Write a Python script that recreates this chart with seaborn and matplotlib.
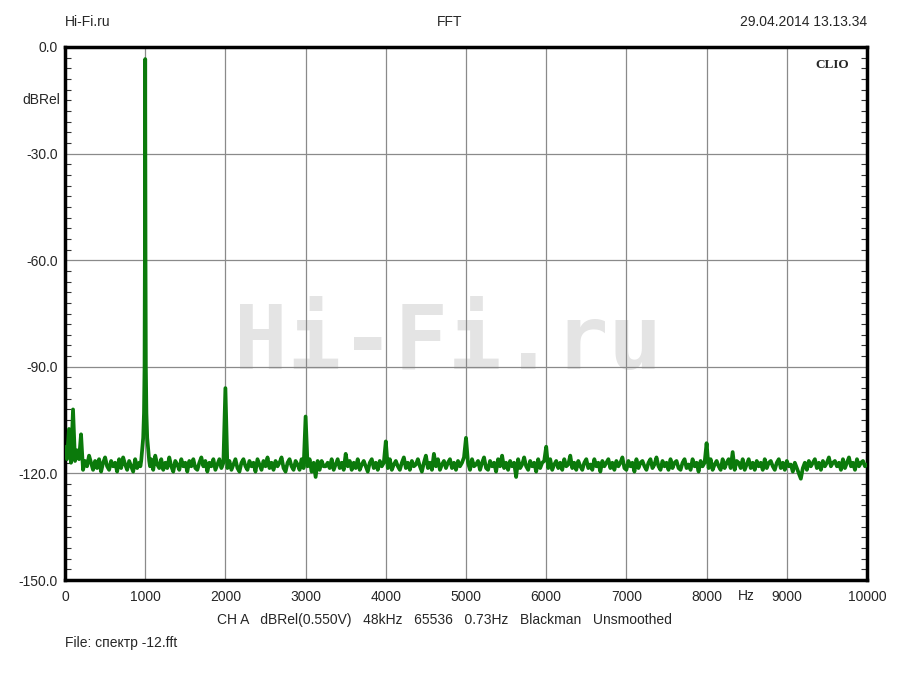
import numpy as np
import pandas as pd
import matplotlib
matplotlib.use("Agg")
import matplotlib.pyplot as plt
from matplotlib.ticker import MultipleLocator
import seaborn as sns

# noise floor, read every 25 Hz from 0 to 10000 Hz (dBRel)
noise_step = 25
noise_db = [
    -112.5, -116, -115, -117, -118.5, -116.5, -119, -116, -117.5, -119, -116.5, -118, -115.5, -117, -119, -116.5,
    -118.5, -116, -119.5, -117, -115.5, -118, -119, -116.5, -118, -117, -119.5, -116, -118.5, -115.5, -117.5, -119,
    -116.5, -118, -119.5, -116, -118.5, -117, -116, -118.5, -117, -116, -118.5, -116, -119, -115, -117.5, -118.5,
    -116, -119, -117, -118.5, -115.5, -118, -119.5, -116.5, -117.5, -119, -116, -118, -117, -119.5, -116.5, -118,
    -116, -118.5, -119, -117, -115.5, -118, -116.5, -119.5, -117, -118, -116, -119, -117.5, -116, -118.5, -117,
    -117, -118.5, -116.5, -119, -117.5, -116, -118.5, -119.5, -117, -116, -118, -119, -116.5, -118, -117, -119.5,
    -116, -117.5, -119, -116.5, -118, -115.5, -118.5, -117, -119, -116.5, -118, -117, -115.5, -118.5, -119.5, -117,
    -116, -118, -119, -116.5, -117.5, -119, -116, -118.5, -117, -118, -116, -119.5, -117, -121, -116.5, -119,
    -116.5, -118, -118, -117, -118.5, -116, -119, -117.5, -116, -118.5, -117, -119, -114.5, -118, -116.5, -119,
    -117, -118.5, -116, -119, -117.5, -116.5, -118, -119.5, -117, -116, -118.5, -117, -119, -116.5, -118, -117,
    -117, -118.5, -116, -119, -117.5, -116.5, -118, -119, -117, -115.5, -118.5, -117, -119, -116.5, -118, -117.5,
    -116, -118, -119.5, -117, -115, -118.5, -117, -119, -114.5, -118, -116, -119, -117.5, -116.5, -118.5, -117,
    -116, -118.5, -117, -119, -116.5, -118, -117, -115.5, -118.5, -117, -119, -116, -118, -117.5, -116.5, -119,
    -117, -115.5, -118.5, -119, -116.5, -118, -117, -119.5, -116, -118, -115, -118.5, -117, -119, -116.5, -118,
    -117, -121, -116, -118.5, -117.5, -115.5, -118, -119, -116.5, -118, -117, -119.5, -116, -118.5, -117, -116.5,
    -117, -118.5, -116, -119, -117.5, -116.5, -118.5, -117, -119, -116, -118, -117.5, -115, -118.5, -117, -119,
    -116.5, -118, -119, -117, -116, -118.5, -117.5, -119, -116, -118, -117, -119.5, -116.5, -118, -117, -116,
    -118.5, -117, -119, -116.5, -118, -117, -115.5, -118.5, -119, -116.5, -118, -117, -119.5, -116, -118.5, -117,
    -116.5, -118, -119, -117, -116, -118.5, -117.5, -115.5, -118, -119, -116.5, -118, -117, -119, -116, -118.5,
    -117, -116.5, -118.5, -119, -117, -116, -118.5, -117.5, -119, -116, -118, -117, -119.5, -116.5, -118, -117,
    -117, -118.5, -116, -119, -117.5, -116.5, -118, -119, -116, -118.5, -117, -116, -118.5, -114, -119, -116.5,
    -117, -118.5, -116, -119, -117.5, -116, -118.5, -117, -119, -116.5, -118, -117, -119, -116, -118.5, -117,
    -116.5, -118, -119, -117, -116, -118.5, -117, -119, -116.5, -118, -117.5, -119.5, -117, -118.5, -120, -121.5,
    -118.5, -117, -119, -116.5, -118, -117, -116, -118.5, -117, -119, -116.5, -118, -117, -115.5, -118, -117,
    -116.5, -118, -117, -119, -116, -118.5, -117, -115.5, -118, -117, -119, -116, -118, -117, -116.5, -118,
    -117.5,
]

# fundamental (with its skirt), harmonics and mains hum
peak_hz = [50, 100, 150, 200, 300,
           940, 950, 960, 975, 985, 992, 996, 1000, 1004, 1008, 1015, 1025, 1040, 1050, 1060,
           2000, 3000, 4000, 5000, 6000, 8000]
peak_db = [-107.5, -102, -113.5, -109, -115,
           -118, -116.5, -114, -110, -103, -90, -60, -3.4, -60, -90, -103, -110, -114, -116.5, -118,
           -96, -104, -111, -110, -112.5, -111.5]

x_ticks = [0, 1000, 2000, 3000, 4000, 5000, 6000, 7000, 8000, 9000, 10000]
y_ticks = [0, -30, -60, -90, -120, -150]

noise = pd.DataFrame({"hz": np.arange(len(noise_db)) * noise_step, "db": noise_db})
peaks = pd.DataFrame({"hz": peak_hz, "db": peak_db})
df = pd.concat([peaks, noise]).drop_duplicates("hz", keep="first").sort_values("hz")

sns.set_style("white")
plt.rcParams["font.family"] = ["Liberation Sans", "DejaVu Sans"]

fig = plt.figure(figsize=(9, 6.75), dpi=100)
ax = fig.add_axes([65 / 900, 1 - 580 / 675, 802 / 900, 533 / 675])

# watermark
ax.text(4775, -83.5, "Hi-Fi.ru", ha="center", va="center", fontsize=64,
        family="DejaVu Sans Mono", fontweight="bold", color="#e4e4e4", zorder=0)

sns.lineplot(data=df, x="hz", y="db", ax=ax, sort=False, estimator=None,
             color="#0b7a0b", linewidth=2.7, zorder=3)

ax.set_xlim(0, 10000)
ax.set_ylim(-150, 0)
ax.set_xticks(x_ticks)
ax.set_yticks(y_ticks)
ax.set_xticklabels([str(t) for t in x_ticks])
ax.set_yticklabels([f"{t:.1f}" for t in y_ticks])
ax.yaxis.set_minor_locator(MultipleLocator(3))
ax.grid(True, which="major", color="#8a8a8a", linewidth=0.9)
ax.set_axisbelow(True)
ax.tick_params(axis="x", length=0, pad=7, labelsize=10)
ax.tick_params(axis="y", which="major", length=0, pad=5, labelsize=10)
ax.tick_params(axis="y", which="minor", direction="in", length=4, width=0.8,
               left=True, right=True, color="#333333")
ax.set_xlabel("")
ax.set_ylabel("")
for s in ax.spines.values():
    s.set_visible(True)
    s.set_color("black")
    s.set_linewidth(2.5)

ax.text(-0.006, -15, "dBRel", transform=ax.get_yaxis_transform(), ha="right",
        va="center", fontsize=10)
ax.text(8500, -154.5, "Hz", ha="center", va="center", fontsize=10)
ax.text(0.978, 0.977, "CLIO", transform=ax.transAxes, ha="right", va="top",
        fontsize=9.5, fontweight="bold", family="Liberation Serif")

fig.text(65 / 900, 1 - 22 / 675, "Hi-Fi.ru", ha="left", va="center", fontsize=10)
fig.text(450 / 900, 1 - 22 / 675, "FFT", ha="center", va="center", fontsize=10)
fig.text(867 / 900, 1 - 22 / 675, "29.04.2014 13.13.34", ha="right", va="center", fontsize=10)
fig.text(444 / 900, 1 - 620 / 675,
         "CH A   dBRel(0.550V)   48kHz   65536   0.73Hz   Blackman   Unsmoothed",
         ha="center", va="center", fontsize=10)
fig.text(65 / 900, 1 - 643 / 675, "File: спектр -12.fft", ha="left", va="center", fontsize=10)

fig.savefig("out.png", dpi=100, facecolor="white")
